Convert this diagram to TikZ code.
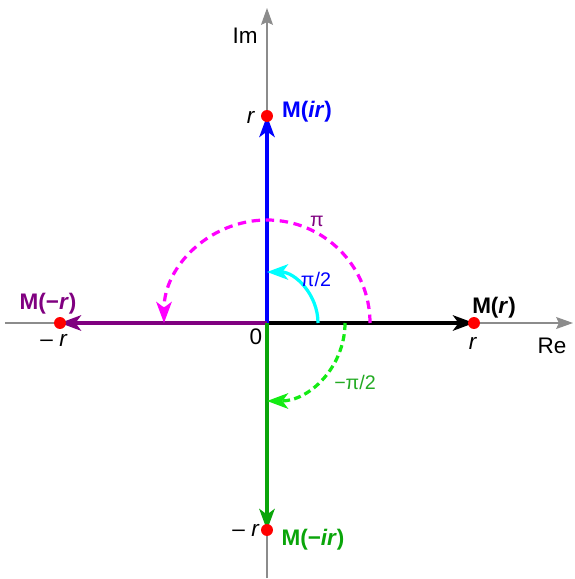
\documentclass[tikz,border=0pt]{standalone}
\usepackage{fontspec}
\setmainfont{Liberation Sans}
\usetikzlibrary{arrows.meta}

\definecolor{axisgray}{RGB}{140,140,140}
\definecolor{mpurple}{RGB}{128,0,128}
\definecolor{mcyan}{RGB}{0,255,255}
\definecolor{mmagenta}{RGB}{255,0,255}
\definecolor{mblue}{RGB}{0,0,255}
\definecolor{dgreen}{RGB}{10,165,10}
\definecolor{lgreen}{RGB}{20,235,20}
\definecolor{tgreen}{RGB}{35,170,35}

\begin{document}
\begin{tikzpicture}[
  x=0.025cm, y=0.025cm,
  >={Stealth[length=15pt, width=11pt, inset=4pt]},
  axis/.style={axisgray, line width=1pt, -{Stealth[length=12pt, width=8.5pt, inset=2pt]}},
  vec/.style={line width=2.2pt, ->},
  turn/.style={line width=2.3pt, ->},
  dot/.style={circle, fill=red, inner sep=0pt, minimum size=8.5pt},
  lbl/.style={font=\fontsize{16}{18}\selectfont},
  big/.style={font=\fontsize{16}{18}\selectfont\bfseries},
  ang/.style={font=\fontsize{14}{16}\selectfont},
]
\useasboundingbox (-267,-256) rectangle (307,323);

% --- points ---
\coordinate (O) at (0,0);
\coordinate (xl) at (-262,0);
\coordinate (xr) at (306,0);
\coordinate (yb) at (0,-255);
\coordinate (yt) at (0,315);
\coordinate (P)  at (207,0);
\coordinate (iP) at (0,207);
\coordinate (nP) at (-207,0);
\coordinate (niP) at (0,-207);
\coordinate (c1) at (51,0);
\coordinate (c2) at (103,0);
\coordinate (c3) at (78,0);

% --- axes ---
\draw[axis] (xl) -- (xr);
\draw[axis] (yb) -- (yt);

% --- vectors ---
\draw[vec, black]   (O) -- (P);
\draw[vec, mblue]   (O) -- (iP);
\draw[vec, mpurple] (O) -- (nP);
\draw[vec, dgreen]  (O) -- (niP);

% --- turning arcs ---
\draw[turn, mcyan] (c1) arc[start angle=0, end angle=90, radius=51];
\draw[turn, mmagenta, dash pattern=on 6pt off 4pt] (c2) arc[start angle=0, end angle=180, radius=103];
\draw[turn, lgreen, dash pattern=on 5pt off 3pt] (c3) arc[start angle=0, end angle=-90, radius=78];

% --- dots ---
\node[dot] (dP)   at (P) {};
\node[dot] (diP)  at (iP) {};
\node[dot] (dnP)  at (nP) {};
\node[dot] (dniP) at (niP) {};

% --- labels ---
\node[lbl] (lIm) at (-22,287) {Im};
\node[lbl] (lRe) at (285,-23) {Re};
\node[lbl] (lO)  at (-11,-14) {0};
\node[lbl] (lr)   at (206,-20) {\textit{r}};
\node[lbl] (lir)  at (-16,206) {\textit{r}};
\node[lbl] (lnr)  at (-213,-17) {– \textit{r}};
\node[lbl] (lnir) at (-21,-207) {– \textit{r}};
\node[big] (mr) at (227,15) {M(\textit{r})};
\node[big, mblue] (mir) at (40,211) {M(\textit{ir})};
\node[big, mpurple] (mnr) at (-219,19) {M(−\textit{r})};
\node[big, dgreen] (mnir) at (46,-217) {M(−\textit{ir})};
\node[ang, mpurple] (api) at (50,102) {π};
\node[ang, mblue] (ahalf) at (49,44) {π/2};
\node[ang, tgreen] (anhalf) at (88,-59) {−π/2};

\end{tikzpicture}
\end{document}
